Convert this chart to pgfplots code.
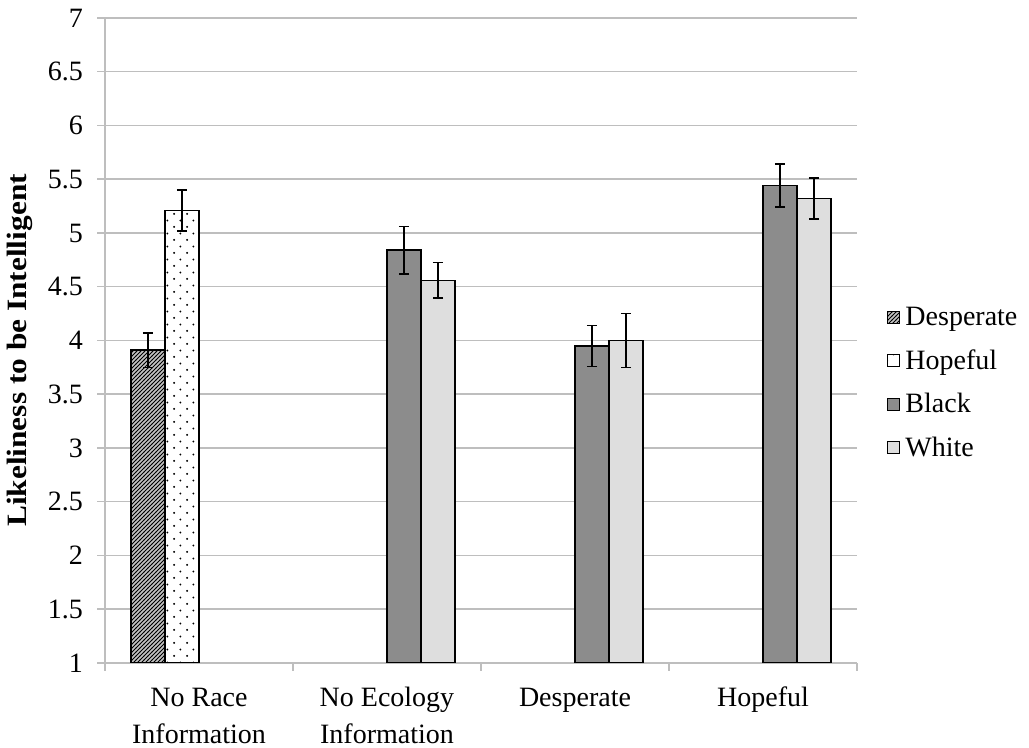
\documentclass[border=0pt]{standalone}
\usepackage{fontspec}
\setmainfont{Liberation Serif}
\usepackage{pgfplots}
\pgfplotsset{compat=1.18}
\usetikzlibrary{patterns}
\pgfdeclarepatternformonly{densehatch}{\pgfqpoint{-1pt}{-1pt}}{\pgfqpoint{3pt}{3pt}}{\pgfqpoint{2pt}{2pt}}{%
  \pgfsetlinewidth{0.45pt}\pgfpathmoveto{\pgfqpoint{0pt}{0pt}}\pgfpathlineto{\pgfqpoint{2.1pt}{2.1pt}}\pgfusepath{stroke}}
\pgfdeclarepatternformonly{sparsedots}{\pgfqpoint{0pt}{0pt}}{\pgfqpoint{6.6pt}{6.4pt}}{\pgfqpoint{6.6pt}{6.4pt}}{%
  \pgfpathcircle{\pgfqpoint{1.65pt}{1.6pt}}{0.55pt}\pgfpathcircle{\pgfqpoint{4.95pt}{4.8pt}}{0.55pt}\pgfusepath{fill}}
\definecolor{gridgray}{HTML}{BEBEBE}
\definecolor{blackbar}{HTML}{8C8C8C}
\definecolor{whitebar}{HTML}{DEDEDE}
\definecolor{hatchgray}{HTML}{C4C4C4}
\begin{document}
\begin{tikzpicture}
\path[use as bounding box] (-52.5pt,-42.5pt) rectangle (462pt,331.5pt);
\begin{axis}[
  at={(0,0)}, anchor=south west,
  scale only axis, width=376pt, height=322.5pt,
  font=\fontsize{14}{18}\selectfont,
  /pgf/number format/assume math mode=true,
  xmin=-0.5, xmax=3.5, ymin=1, ymax=7,
  ytick={1,1.5,...,7},
  yticklabel style={/pgf/number format/fixed, xshift=-3.5pt},
  xtick={0,1,2,3},
  xticklabels={{No Race\\Information},{No Ecology\\Information},{Desperate\\\mbox{}},{Hopeful\\\mbox{}}},
  xticklabel style={align=center, anchor=base, yshift=-36.5pt, font=\fontsize{14}{18.5}\selectfont},
  minor xtick={-0.5,0.5,1.5,2.5,3.5},
  major x tick style={draw=none},
  minor x tick style={draw=gridgray, line width=0.75pt},
  y tick style={draw=gridgray, line width=0.75pt},
  tick align=outside, major tick length=4pt, minor tick length=4pt,
  axis lines*=left,
  axis line style={draw=gridgray, line width=0.75pt},
  ymajorgrids, grid style={draw=gridgray, line width=0.75pt},
  ylabel={\scalebox{1.12}[1]{\textbf{Likeliness to be Intelligent}}},
  ylabel style={font=\fontsize{14}{16}\selectfont, at={(axis description cs:0,0.5)}, anchor=center, xshift=-5pt, yshift=42.5pt},
  ybar, bar width=17pt,
  legend style={at={(1.04,0.434)}, anchor=west, draw=none, fill=none,
    font=\fontsize{14}{18}\selectfont, row sep=10.5pt, inner sep=0pt,
    nodes={inner xsep=2.5pt, inner ysep=0pt}},
  legend cell align=left,
  legend image code/.code={\draw[#1, line width=0.5pt] (0pt,-3pt) rectangle (6pt,3pt);},
  error bars/error bar style={black, line width=0.75pt},
  error bars/error mark options={rotate=90, mark size=2.6pt, line width=0.75pt, black},
]
\addplot[draw=black, line width=0.75pt, fill=hatchgray, postaction={pattern=densehatch}, bar shift=-25.5pt,
  error bars/.cd, y dir=both, y explicit]
  coordinates {(0,3.91) +- (0,0.16)};
\addlegendentry{Desperate}
\addplot[draw=black, line width=0.75pt, fill=white, postaction={pattern=sparsedots}, bar shift=-8.5pt,
  error bars/.cd, y dir=both, y explicit]
  coordinates {(0,5.21) +- (0,0.19)};
\addlegendentry{Hopeful}
\addplot[draw=black, line width=0.75pt, fill=blackbar, bar shift=8.5pt,
  error bars/.cd, y dir=both, y explicit]
  coordinates {(1,4.84) +- (0,0.22) (2,3.95) +- (0,0.19) (3,5.44) +- (0,0.20)};
\addlegendentry{Black}
\addplot[draw=black, line width=0.75pt, fill=whitebar, bar shift=25.5pt,
  error bars/.cd, y dir=both, y explicit]
  coordinates {(1,4.56) +- (0,0.165) (2,4.00) +- (0,0.25) (3,5.32) +- (0,0.19)};
\addlegendentry{White}
\end{axis}
\end{tikzpicture}
\end{document}
